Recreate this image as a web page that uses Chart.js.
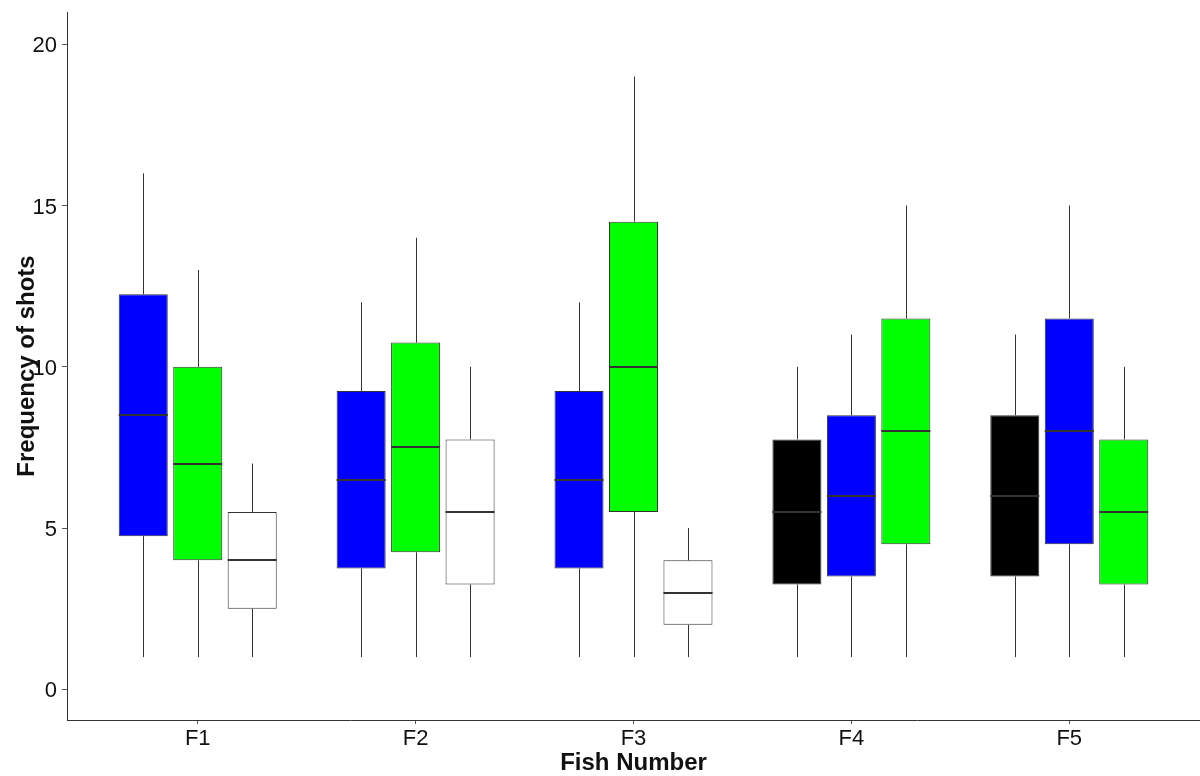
<!DOCTYPE html>
<html>
<head>
<meta charset="utf-8">
<title>Frequency of shots by fish</title>
<script src="https://cdn.jsdelivr.net/npm/chart.js@4.4.1/dist/chart.umd.min.js"></script>
<style>
  html, body { margin: 0; padding: 0; background: #fff; }
  #wrap { width: 1200px; height: 776px; }
</style>
</head>
<body>
<div id="wrap"><canvas id="grafica" width="1200" height="776"></canvas></div>
<script>
// Peces en el eje X y marcas del eje Y
const fishLabels = ['F1', 'F2', 'F3', 'F4', 'F5'];
const yTicks = [0, 5, 10, 15, 20];

// Estadísticos de cada caja: [mínimo, Q1, mediana, Q3, máximo]
const boxesLeft = [
    [1, 4.75, 8.5, 12.25, 16],
    [1, 3.75, 6.5, 9.25, 12],
    [1, 3.75, 6.5, 9.25, 12],
    [1, 3.25, 5.5, 7.75, 10],
    [1, 3.5, 6, 8.5, 11]
];
const boxesMiddle = [
    [1, 4, 7, 10, 13],
    [1, 4.25, 7.5, 10.75, 14],
    [1, 5.5, 10, 14.5, 19],
    [1, 3.5, 6, 8.5, 11],
    [1, 4.5, 8, 11.5, 15]
];
const boxesRight = [
    [1, 2.5, 4, 5.5, 7],
    [1, 3.25, 5.5, 7.75, 10],
    [1, 2, 3, 4, 5],
    [1, 4.5, 8, 11.5, 15],
    [1, 3.25, 5.5, 7.75, 10]
];

// Color de relleno de cada caja
const colorsLeft = ['#0000ff', '#0000ff', '#0000ff', '#000000', '#000000'];
const colorsMiddle = ['#00ff00', '#00ff00', '#00ff00', '#0000ff', '#0000ff'];
const colorsRight = ['#ffffff', '#ffffff', '#ffffff', '#00ff00', '#00ff00'];

function makeDataset(stats, colors) {
    return {
        data: stats.map((s, i) => ({ x: i + 1, y: [s[1], s[3]] })),
        boxStats: stats,
        backgroundColor: colors,
        borderColor: '#333333',
        borderWidth: 1,
        borderSkipped: false,
        categoryPercentage: 0.75,
        barPercentage: 0.9
    };
}

// Bigotes y mediana dibujados con las escalas del gráfico
const boxplotLines = {
    id: 'boxplotLines',
    afterDatasetsDraw(chart) {
        const ctx = chart.ctx;
        const y = chart.scales.y;
        ctx.save();
        chart.data.datasets.forEach((ds, di) => {
            const meta = chart.getDatasetMeta(di);
            meta.data.forEach((bar, i) => {
                const s = ds.boxStats[i];
                const cx = Math.round(bar.x) + 0.5;
                const half = bar.width / 2;

                ctx.strokeStyle = '#333333';
                ctx.lineWidth = 1;
                ctx.beginPath();
                ctx.moveTo(cx, y.getPixelForValue(s[3]));
                ctx.lineTo(cx, y.getPixelForValue(s[4]));
                ctx.moveTo(cx, y.getPixelForValue(s[1]));
                ctx.lineTo(cx, y.getPixelForValue(s[0]));
                ctx.stroke();

                ctx.lineWidth = 2;
                ctx.beginPath();
                const my = Math.round(y.getPixelForValue(s[2]));
                ctx.moveTo(bar.x - half, my);
                ctx.lineTo(bar.x + half, my);
                ctx.stroke();
            });
        });
        ctx.restore();
    }
};

const fontFamily = '"Liberation Sans", Arial, sans-serif';

new Chart(document.getElementById('grafica'), {
    type: 'bar',
    data: {
        datasets: [
            makeDataset(boxesLeft, colorsLeft),
            makeDataset(boxesMiddle, colorsMiddle),
            makeDataset(boxesRight, colorsRight)
        ]
    },
    options: {
        responsive: false,
        animation: false,
        layout: { padding: { top: 12, right: 0, bottom: 0, left: 0 } },
        plugins: {
            legend: { display: false },
            tooltip: { enabled: false }
        },
        scales: {
            x: {
                type: 'linear',
                min: 0.4,
                max: 5.6,
                offset: false,
                afterBuildTicks: (scale) => {
                    scale.ticks = fishLabels.map((_, i) => ({ value: i + 1 }));
                },
                afterFit: (scale) => {
                    scale.height = 56;
                    scale.paddingLeft = 0;
                    scale.paddingRight = 0;
                },
                ticks: {
                    callback: (v) => fishLabels[v - 1],
                    color: '#111111',
                    font: { family: fontFamily, size: 22 },
                    padding: 2,
                    maxRotation: 0
                },
                grid: {
                    display: true,
                    drawOnChartArea: false,
                    drawTicks: true,
                    tickLength: 4,
                    color: '#555555',
                    offset: false
                },
                border: { color: '#333333', width: 1 },
                title: {
                    display: true,
                    text: 'Fish Number',
                    color: '#111111',
                    font: { family: fontFamily, size: 24, weight: 'bold', lineHeight: 1 },
                    padding: { top: 0, bottom: 1 }
                }
            },
            y: {
                min: -0.95,
                max: 21,
                afterBuildTicks: (scale) => {
                    scale.ticks = yTicks.map(v => ({ value: v }));
                },
                afterFit: (scale) => {
                    scale.width = 67;
                    scale.paddingTop = 0;
                    scale.paddingBottom = 0;
                },
                ticks: {
                    color: '#111111',
                    font: { family: fontFamily, size: 22 },
                    padding: 5,
                    labelOffset: 2
                },
                grid: {
                    display: true,
                    drawOnChartArea: false,
                    drawTicks: true,
                    tickLength: 5,
                    color: '#555555'
                },
                border: { color: '#333333', width: 1 },
                title: {
                    display: true,
                    text: 'Frequency of shots',
                    color: '#111111',
                    font: { family: fontFamily, size: 24, weight: 'bold', lineHeight: 1 },
                    padding: { top: 15, bottom: 0 }
                }
            }
        }
    },
    plugins: [boxplotLines]
});
</script>
</body>
</html>
